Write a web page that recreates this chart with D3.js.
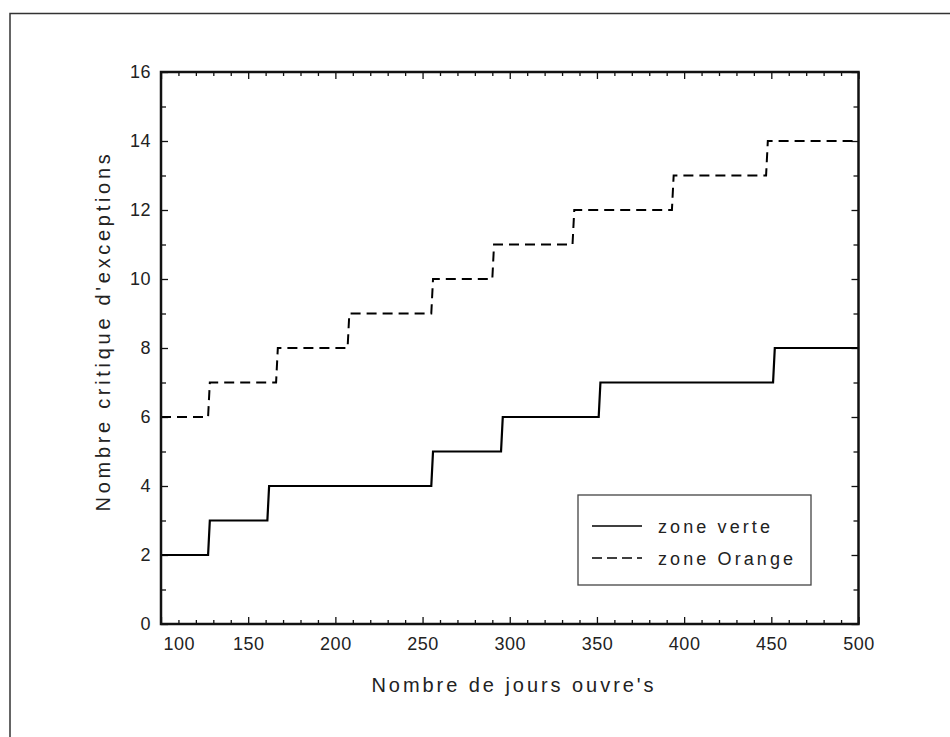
<!DOCTYPE html>
<html>
<head>
<meta charset="utf-8">
<script src="https://cdn.jsdelivr.net/npm/d3@7"></script>
<style>
  html, body { margin: 0; padding: 0; background: #fff; }
  svg { display: block; }
  text { font-family: "Liberation Sans", Arial, sans-serif; fill: #222; }
</style>
</head>
<body>
<svg id="chart" width="950" height="737"></svg>
<script>
// Number of working days at which the critical count steps up by one
const greenSteps = [127, 161, 255, 295, 351, 451];
const greenStart = 2;
const orangeSteps = [127, 166, 207, 255, 290, 336, 393, 447];
const orangeStart = 6;

const xDomain = [100, 500];
const yDomain = [0, 16];
const xMajorTicks = [100, 150, 200, 250, 300, 350, 400, 450, 500];
const yMajorTicks = [0, 2, 4, 6, 8, 10, 12, 14, 16];

const xTitle = "Nombre de jours ouvre's";
const yTitle = "Nombre critique d'exceptions";
const legendLabels = ["zone verte", "zone Orange"];

const svg = d3.select("#chart");

// outer frame of the figure
svg.append("rect")
  .attr("x", 10).attr("y", 13.5)
  .attr("width", 960).attr("height", 760)
  .attr("fill", "none").attr("stroke", "#333").attr("stroke-width", 1.5);

const pLeft = 161, pRight = 858.5, pTop = 72, pBottom = 624;
const x = d3.scaleLinear().domain(xDomain).range([pLeft, pRight]);
const y = d3.scaleLinear().domain(yDomain).range([pBottom, pTop]);

const xMinor = d3.range(xDomain[0], xDomain[1] + 1, 10).filter(v => !xMajorTicks.includes(v));
const yMinor = d3.range(yDomain[0], yDomain[1] + 1, 1).filter(v => !yMajorTicks.includes(v));

function tickGroup(axisFn, scale, values, size, tr) {
  const g = svg.append("g").attr("transform", tr)
    .call(axisFn(scale).tickValues(values).tickSize(size).tickFormat(""));
  g.select(".domain").remove();
  g.selectAll(".tick line").attr("stroke", "#111").attr("stroke-width", 1.3);
  g.selectAll(".tick text").remove();
  return g;
}

// inward ticks on all four sides
tickGroup(d3.axisTop, x, xMajorTicks, 7, `translate(0,${pBottom})`);
tickGroup(d3.axisTop, x, xMinor, 4, `translate(0,${pBottom})`);
tickGroup(d3.axisBottom, x, xMajorTicks, 7, `translate(0,${pTop})`);
tickGroup(d3.axisBottom, x, xMinor, 4, `translate(0,${pTop})`);
tickGroup(d3.axisRight, y, yMajorTicks, 7, `translate(${pLeft},0)`);
tickGroup(d3.axisRight, y, yMinor, 5, `translate(${pLeft},0)`);
tickGroup(d3.axisLeft, y, yMajorTicks, 7, `translate(${pRight},0)`);
tickGroup(d3.axisLeft, y, yMinor, 5, `translate(${pRight},0)`);

// tick labels
const xl = svg.append("g").attr("transform", `translate(0,${pBottom})`)
  .call(d3.axisBottom(x).tickValues(xMajorTicks).tickSize(0).tickPadding(0).tickFormat(d3.format("d")));
xl.select(".domain").remove();
xl.selectAll(".tick text")
  .attr("y", 26).attr("dy", null)
  .style("font-size", "18px").style("letter-spacing", "0.5px")
  .attr("text-anchor", (d, i) => i === 0 ? "start" : "middle")
  .attr("dx", (d, i) => i === 0 ? 2 : 0);

const yl = svg.append("g").attr("transform", `translate(${pLeft},0)`)
  .call(d3.axisLeft(y).tickValues(yMajorTicks).tickSize(0).tickPadding(0).tickFormat(d3.format("d")));
yl.select(".domain").remove();
yl.selectAll(".tick text")
  .attr("x", -10).attr("dy", "0.3em")
  .style("font-size", "18px").style("letter-spacing", "0.5px");

// step curves
function stepPoints(steps, start) {
  const pts = [[xDomain[0], start]];
  steps.forEach((d, i) => {
    pts.push([d, start + i]);
    pts.push([d + 1, start + i + 1]);
  });
  pts.push([xDomain[1], start + steps.length]);
  return pts;
}
const line = d3.line().x(d => x(d[0])).y(d => y(d[1]));

svg.append("path").datum(stepPoints(greenSteps, greenStart))
  .attr("d", line).attr("fill", "none")
  .attr("stroke", "#000").attr("stroke-width", 2.2);

svg.append("path").datum(stepPoints(orangeSteps, orangeStart))
  .attr("d", line).attr("fill", "none")
  .attr("stroke", "#000").attr("stroke-width", 2)
  .attr("stroke-dasharray", "10,6");

// plot frame
svg.append("rect")
  .attr("x", pLeft).attr("y", pTop)
  .attr("width", pRight - pLeft).attr("height", pBottom - pTop)
  .attr("fill", "none").attr("stroke", "#111").attr("stroke-width", 2.5);

// axis titles
svg.append("text")
  .attr("x", 514).attr("y", 692)
  .attr("text-anchor", "middle")
  .style("font-size", "20px").style("letter-spacing", "2.95px")
  .text(xTitle);

svg.append("text")
  .attr("transform", "translate(110,331) rotate(-90)")
  .attr("text-anchor", "middle")
  .style("font-size", "20px").style("letter-spacing", "3.7px")
  .text(yTitle);

// legend
const lg = svg.append("g").attr("transform", "translate(578,495)");
lg.append("rect").attr("width", 233).attr("height", 90)
  .attr("fill", "#fff").attr("stroke", "#444").attr("stroke-width", 1.3);
const dashes = [null, "10,5"];
legendLabels.forEach((t, i) => {
  const yy = 31 + i * 32;
  lg.append("line").attr("x1", 14).attr("x2", 64).attr("y1", yy).attr("y2", yy)
    .attr("stroke", "#000").attr("stroke-width", 1.6)
    .attr("stroke-dasharray", dashes[i]);
  lg.append("text").attr("x", 80).attr("y", yy + 7)
    .style("font-size", "18px").style("letter-spacing", "3.1px")
    .text(t);
});
</script>
</body>
</html>
